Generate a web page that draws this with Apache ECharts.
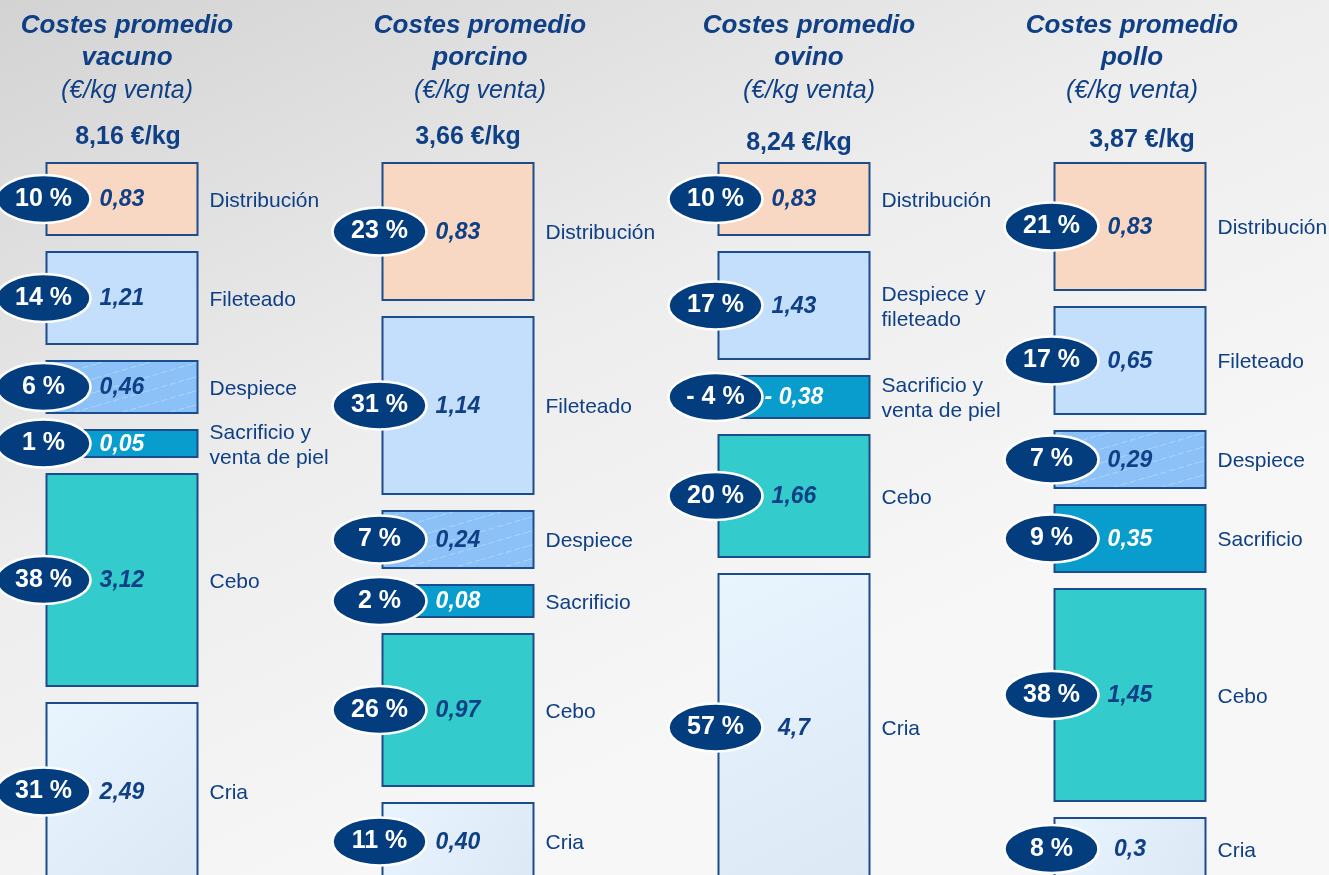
<!DOCTYPE html>
<html>
<head>
<meta charset="utf-8">
<title>Costes promedio</title>
<script src="https://cdn.jsdelivr.net/npm/echarts@6/dist/echarts.min.js"></script>
<style>
  html, body { margin: 0; padding: 0; }
  #chart { width: 1329px; height: 875px; }
</style>
</head>
<body>
<div id="chart"></div>
<script>
// datos
var especies = ['vacuno', 'porcino', 'ovino', 'pollo'];
var totales = [8.16, 3.66, 8.24, 3.87];

var vacunoEtapas = ['Distribución', 'Fileteado', 'Despiece', 'Sacrificio y\nventa de piel', 'Cebo', 'Cria'];
var vacunoCoste = ['0,83', '1,21', '0,46', '0,05', '3,12', '2,49'];
var vacunoPct = [10, 14, 6, 1, 38, 31];

var porcinoEtapas = ['Distribución', 'Fileteado', 'Despiece', 'Sacrificio', 'Cebo', 'Cria'];
var porcinoCoste = ['0,83', '1,14', '0,24', '0,08', '0,97', '0,40'];
var porcinoPct = [23, 31, 7, 2, 26, 11];

var ovinoEtapas = ['Distribución', 'Despiece y\nfileteado', 'Sacrificio y\nventa de piel', 'Cebo', 'Cria'];
var ovinoCoste = ['0,83', '1,43', '- 0,38', '1,66', '4,7'];
var ovinoPct = [10, 17, -4, 20, 57];

var polloEtapas = ['Distribución', 'Fileteado', 'Despiece', 'Sacrificio', 'Cebo', 'Cria'];
var polloCoste = ['0,83', '0,65', '0,29', '0,35', '1,45', '0,3'];
var polloPct = [21, 17, 7, 9, 38, 8];

// maquetacion
var PAD = 4.4;   // alto minimo de caja (unidades del eje)
var GAP = 3.4;   // separacion entre cajas
var BOX_W = 151;
var tituloX = [127, 480, 809, 1132];
var totalX = [128, 468, 799, 1142];
var totalY = [137, 137, 143, 140];
var AZUL = '#0f3f84';
var FONT = '"Liberation Sans", Arial, sans-serif';

var cajas = [];
function montarColumna(col, etapas, coste, pct) {
  var y = 0;
  etapas.forEach(function (e, i) {
    var h = PAD + Math.abs(pct[i]);
    cajas.push({ col: col, start: y, end: y + h, etapa: e, coste: coste[i], pct: pct[i] });
    y += h + GAP;
  });
}
montarColumna(0, vacunoEtapas, vacunoCoste, vacunoPct);
montarColumna(1, porcinoEtapas, porcinoCoste, porcinoPct);
montarColumna(2, ovinoEtapas, ovinoCoste, ovinoPct);
montarColumna(3, polloEtapas, polloCoste, polloPct);

// trama para despiece
var trama = document.createElement('canvas');
trama.width = 48; trama.height = 14;
(function () {
  var ctx = trama.getContext('2d');
  ctx.fillStyle = '#8cc1f7';
  ctx.fillRect(0, 0, 48, 14);
  ctx.strokeStyle = 'rgba(255,255,255,0.3)';
  ctx.lineWidth = 1;
  ctx.setLineDash([6, 3]);
  ctx.beginPath();
  ctx.moveTo(0, 14); ctx.lineTo(48, 0);
  ctx.stroke();
})();

function relleno(etapa) {
  var e = etapa.toLowerCase();
  if (e.indexOf('filete') >= 0) return '#c3dffb';
  if (e.indexOf('distrib') === 0) return '#f9d8c3';
  if (e.indexOf('despiece') === 0) return { image: trama, repeat: 'repeat' };
  if (e.indexOf('sacrificio') === 0) return '#099dcd';
  if (e.indexOf('cebo') === 0) return '#33cbcb';
  return {
    type: 'linear', x: 0, y: 0, x2: 1, y2: 1,
    colorStops: [{ offset: 0, color: '#e8f4fe' }, { offset: 1, color: '#dce9f5' }]
  };
}

function textoPct(p) {
  return p < 0 ? '- ' + Math.abs(p) + ' %' : p + ' %';
}

function renderItem(params, api) {
  var c = cajas[params.dataIndex];
  var p0 = api.coord([api.value(0), api.value(1)]);
  var p1 = api.coord([api.value(0), api.value(2)]);
  var x0 = p0[0] - BOX_W / 2;
  var y0 = p0[1];
  var h = p1[1] - p0[1];
  var cy = y0 + h / 2;
  var blanco = c.etapa.indexOf('Sacrificio') === 0;
  return {
    type: 'group',
    children: [
      {
        type: 'rect',
        shape: { x: x0, y: y0, width: BOX_W, height: h },
        style: { fill: relleno(c.etapa), stroke: '#1d4c8c', lineWidth: 2 }
      },
      {
        type: 'text',
        style: {
          x: p0[0], y: cy + 1, text: c.coste, align: 'center', verticalAlign: 'middle',
          fill: blanco ? '#ffffff' : AZUL, font: 'italic bold 23px ' + FONT
        }
      },
      {
        type: 'ellipse',
        shape: { cx: x0 - 3, cy: cy, rx: 47, ry: 24 },
        style: { fill: '#043d7e', stroke: '#ffffff', lineWidth: 2.5 }
      },
      {
        type: 'text',
        style: {
          x: x0 - 3, y: cy, text: textoPct(c.pct), align: 'center', verticalAlign: 'middle',
          fill: '#ffffff', font: 'bold 25px ' + FONT
        }
      },
      {
        type: 'text',
        style: {
          x: x0 + BOX_W + 12, y: cy + 2, text: c.etapa, align: 'left', verticalAlign: 'middle',
          fill: AZUL, font: '21px ' + FONT, lineHeight: 25
        }
      }
    ]
  };
}

var myChart = echarts.init(document.getElementById('chart'));

var titulos = especies.map(function (e, i) {
  return {
    text: 'Costes promedio\n' + e,
    subtext: '(€/kg venta)',
    left: tituloX[i],
    top: 10,
    textAlign: 'center',
    padding: 0,
    itemGap: 1,
    textStyle: { color: AZUL, fontSize: 26, fontWeight: 'bold', fontStyle: 'italic', lineHeight: 32, fontFamily: FONT },
    subtextStyle: { color: AZUL, fontSize: 25, fontStyle: 'italic', lineHeight: 32, fontFamily: FONT }
  };
}).concat(totales.map(function (t, i) {
  return {
    text: t.toFixed(2).replace('.', ',') + ' €/kg',
    left: totalX[i],
    top: totalY[i] - 14,
    textAlign: 'center',
    padding: 0,
    textStyle: { color: AZUL, fontSize: 25, fontWeight: 'bold', lineHeight: 28, fontFamily: FONT }
  };
}));

var option = {
  backgroundColor: {
    type: 'linear', x: 0, y: 0, x2: 0.3, y2: 1,
    colorStops: [
      { offset: 0, color: '#d3d3d3' },
      { offset: 0.55, color: '#ededed' },
      { offset: 1, color: '#f7f7f7' }
    ]
  },
  animation: false,
  title: titulos,
  grid: { left: 122, right: 199, top: 163, bottom: 0, outerBoundsMode: 'none' },
  xAxis: { type: 'category', data: especies, boundaryGap: false, show: false },
  yAxis: { type: 'value', inverse: true, min: 0, max: 142.4, show: false },
  series: [{
    type: 'custom',
    renderItem: renderItem,
    encode: { x: 0, y: [1, 2] },
    data: cajas.map(function (c) { return [c.col, c.start, c.end]; })
  }]
};

myChart.setOption(option);
window.addEventListener('resize', function () {
  myChart.resize();
});
</script>
</body>
</html>
